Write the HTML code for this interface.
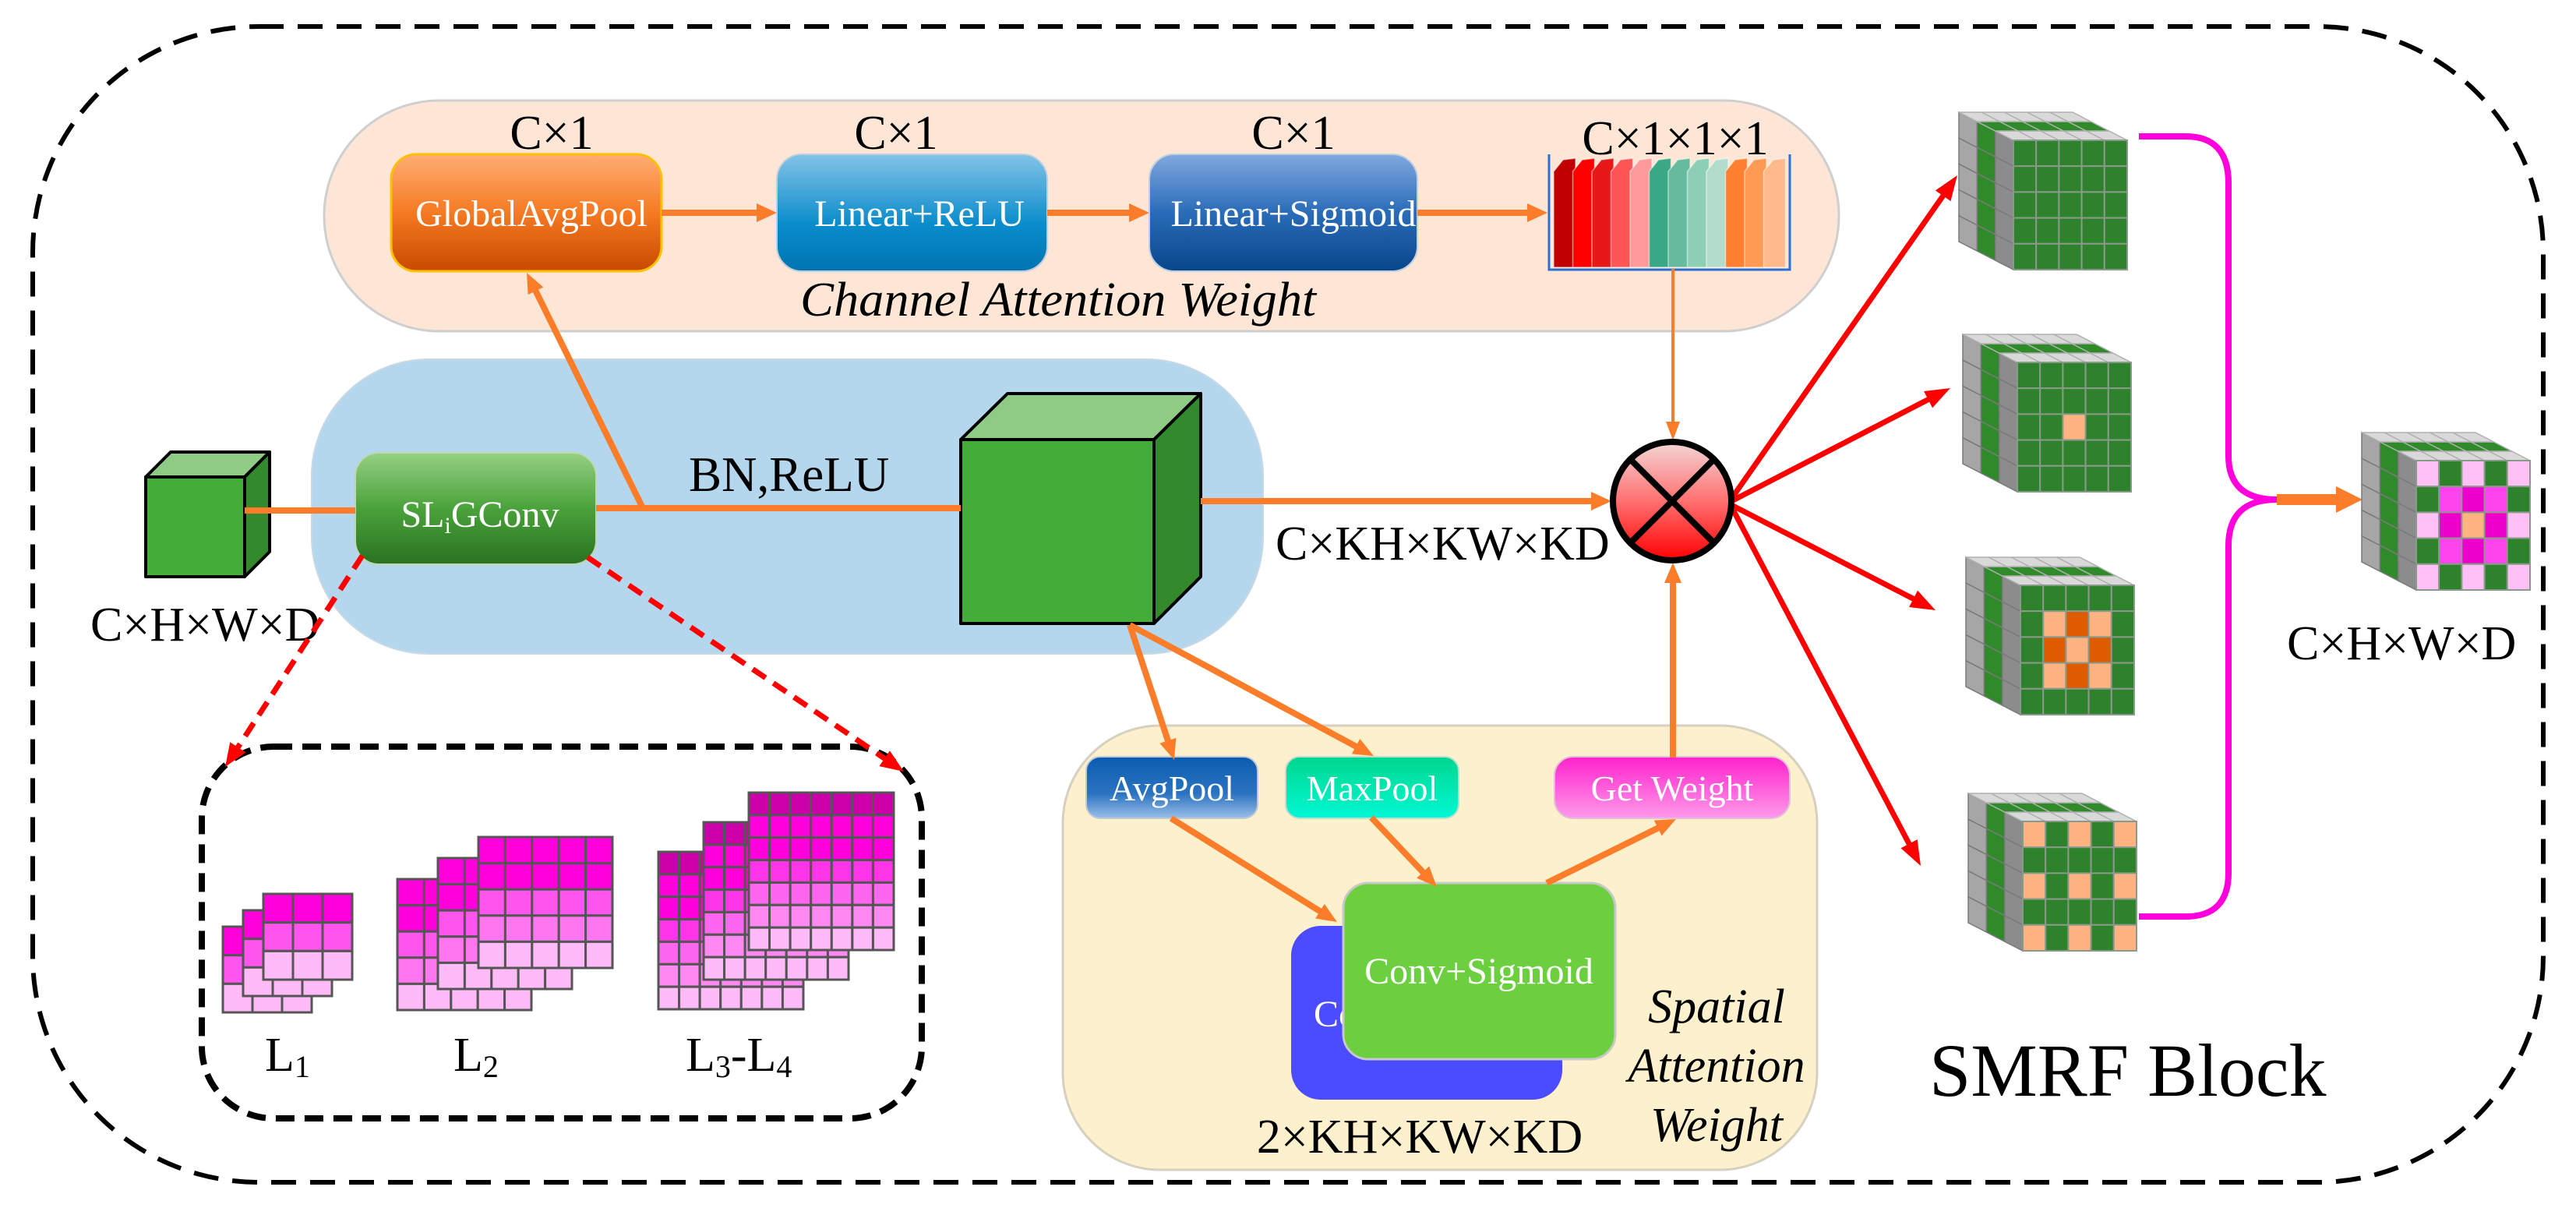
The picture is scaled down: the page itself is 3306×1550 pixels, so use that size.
<!DOCTYPE html>
<html><head><meta charset="utf-8"><style>
html,body{margin:0;padding:0;background:#fff;}
svg{display:block;font-family:"Liberation Serif","DejaVu Serif",serif;}
svg text{font-family:"Liberation Serif","DejaVu Serif",serif;}
</style></head><body>
<svg id="s" xmlns="http://www.w3.org/2000/svg" width="3306" height="1550" viewBox="0 0 3306 1550" font-family="Liberation Serif, DejaVu Serif, serif">
<defs>
<linearGradient id="gOr" x1="0" y1="0" x2="0" y2="1"><stop offset="0" stop-color="#ffad75"/><stop offset="0.5" stop-color="#f57a22"/><stop offset="1" stop-color="#c94a00"/></linearGradient>
<linearGradient id="gB1" x1="0" y1="0" x2="0" y2="1"><stop offset="0" stop-color="#83c3e6"/><stop offset="0.6" stop-color="#0a8ccc"/><stop offset="1" stop-color="#0074b2"/></linearGradient>
<linearGradient id="gB2" x1="0" y1="0" x2="0" y2="1"><stop offset="0" stop-color="#80a8de"/><stop offset="0.5" stop-color="#2a6cb8"/><stop offset="1" stop-color="#08468a"/></linearGradient>
<linearGradient id="gGr" x1="0" y1="0" x2="0" y2="1"><stop offset="0" stop-color="#96d083"/><stop offset="0.5" stop-color="#4aa23a"/><stop offset="1" stop-color="#2a7222"/></linearGradient>
<linearGradient id="gAvg" x1="0" y1="0" x2="0" y2="1"><stop offset="0" stop-color="#0a5cb0"/><stop offset="0.6" stop-color="#2b73c0"/><stop offset="1" stop-color="#9cc0e8"/></linearGradient>
<linearGradient id="gMax" x1="0" y1="0" x2="0" y2="1"><stop offset="0" stop-color="#00d68e"/><stop offset="1" stop-color="#00f8d4"/></linearGradient>
<linearGradient id="gGW" x1="0" y1="0" x2="0" y2="1"><stop offset="0" stop-color="#ff22cc"/><stop offset="1" stop-color="#ff9aea"/></linearGradient>
<linearGradient id="gCir" x1="0" y1="0" x2="0" y2="1"><stop offset="0" stop-color="#f3d6d6"/><stop offset="0.5" stop-color="#ff7070"/><stop offset="1" stop-color="#ff0000"/></linearGradient>
</defs>

<rect x="42" y="34" width="3222" height="1483" rx="290" ry="290" fill="none" stroke="#000" stroke-width="6" stroke-dasharray="32 18"/>

<rect x="416" y="129" width="1944" height="296" rx="148" fill="#fde6d6" stroke="#cfcfcf" stroke-width="3"/>
<rect x="502" y="198" width="347" height="150" rx="32" fill="url(#gOr)" stroke="#ffc000" stroke-width="3"/>
<rect x="997" y="198" width="347" height="150" rx="32" fill="url(#gB1)" stroke="#bfcfdf" stroke-width="2"/>
<rect x="1475" y="198" width="344" height="150" rx="32" fill="url(#gB2)" stroke="#bfcfdf" stroke-width="2"/>
<text x="682" y="290" font-size="48" fill="#fff" text-anchor="middle">GlobalAvgPool</text>
<text x="1180" y="290" font-size="48" fill="#fff" text-anchor="middle">Linear+ReLU</text>
<text x="1660" y="290" font-size="48" fill="#fff" text-anchor="middle">Linear+Sigmoid</text>
<text x="708" y="191" font-size="62" text-anchor="middle">C×1</text>
<text x="1150" y="191" font-size="62" text-anchor="middle">C×1</text>
<text x="1660" y="191" font-size="62" text-anchor="middle">C×1</text>
<text x="2150" y="198" font-size="62" text-anchor="middle">C×1×1×1</text>
<text x="1027" y="405" font-size="62" font-style="italic" textLength="662" lengthAdjust="spacingAndGlyphs">Channel Attention Weight</text>
<g id="bars"></g>

<rect x="400" y="461" width="1221" height="378" rx="150" fill="#b4d7ee" stroke="#c8d8e4" stroke-width="2"/>
<rect x="456" y="581" width="309" height="143" rx="30" fill="url(#gGr)" stroke="#bcd8b0" stroke-width="2"/>
<text x="616" y="676" font-size="48" fill="#fff" text-anchor="middle">SL<tspan font-size="30" dy="8">i</tspan><tspan dy="-8">GConv</tspan></text>
<text x="884" y="630" font-size="63">BN,ReLU</text>

<g stroke="#000" stroke-width="4" stroke-linejoin="round">
<polygon points="187,612 219,580 346,580 314,612" fill="#8fcb85"/>
<polygon points="314,612 346,580 346,708 314,740" fill="#338a2c"/>
<rect x="187" y="612" width="127" height="128" fill="#44ad3a"/>
<polygon points="1233,564 1293,505 1541,505 1481,564" fill="#8fcb85"/>
<polygon points="1481,564 1541,505 1541,740 1481,800" fill="#338a2c"/>
<rect x="1233" y="564" width="248" height="236" fill="#44ad3a"/>
</g>
<text x="116" y="822" font-size="62">C×H×W×D</text>
<text x="1637" y="718" font-size="62">C×KH×KW×KD</text>

<rect x="259" y="958" width="924" height="477" rx="92" fill="none" stroke="#000" stroke-width="8" stroke-dasharray="24 13"/>
<g id="grids"></g>
<text x="340" y="1374" font-size="62">L<tspan font-size="40" dy="8">1</tspan></text>
<text x="582" y="1374" font-size="62">L<tspan font-size="40" dy="8">2</tspan></text>
<text x="880" y="1374" font-size="62">L<tspan font-size="40" dy="8">3</tspan><tspan dy="-8">-L</tspan><tspan font-size="40" dy="8">4</tspan></text>

<rect x="1364" y="931" width="968" height="570" rx="125" fill="#fdf0cc" stroke="#d6d0c0" stroke-width="3"/>
<rect x="1394" y="971" width="220" height="79" rx="18" fill="url(#gAvg)" stroke="#c0c8d8" stroke-width="2"/>
<rect x="1650" y="971" width="222" height="79" rx="18" fill="url(#gMax)" stroke="#c0dcd0" stroke-width="2"/>
<rect x="1995" y="971" width="302" height="79" rx="24" fill="url(#gGW)" stroke="#e0c0d8" stroke-width="2"/>
<text x="1504" y="1027" font-size="46" fill="#fff" text-anchor="middle">AvgPool</text>
<text x="1761" y="1027" font-size="46" fill="#fff" text-anchor="middle">MaxPool</text>
<text x="2146" y="1027" font-size="46" fill="#fff" text-anchor="middle">Get Weight</text>
<rect x="1657" y="1188" width="348" height="223" rx="38" fill="#4b4bff"/>
<text x="1686" y="1317" font-size="48" fill="#fff">Conv</text>
<rect x="1724" y="1133" width="349" height="226" rx="32" fill="#6ccf40" stroke="#c8c8c8" stroke-width="3"/>
<text x="1898" y="1262" font-size="48" fill="#fff" text-anchor="middle">Conv+Sigmoid</text>
<text x="1822" y="1479" font-size="62" text-anchor="middle">2×KH×KW×KD</text>
<text x="2203" y="1312" font-size="62" font-style="italic" text-anchor="middle">Spatial</text>
<text x="2203" y="1388" font-size="62" font-style="italic" text-anchor="middle">Attention</text>
<text x="2203" y="1464" font-size="62" font-style="italic" text-anchor="middle">Weight</text>

<g id="arrows"></g>

<circle cx="2146" cy="643" r="76" fill="url(#gCir)" stroke="#000" stroke-width="8"/>
<line x1="2092" y1="589" x2="2200" y2="697" stroke="#000" stroke-width="8"/>
<line x1="2200" y1="589" x2="2092" y2="697" stroke="#000" stroke-width="8"/>

<path d="M2745,175 H2805 Q2860,175 2860,235 V585 Q2860,641 2922,641 Q2860,641 2860,700 V1120 Q2860,1176 2805,1176 H2745" fill="none" stroke="#ff00dd" stroke-width="8"/>
<g id="cubes"></g>
<text x="2935" y="846" font-size="62">C×H×W×D</text>
<text x="2476" y="1406" font-size="96">SMRF Block</text>
</svg>
<script>
var NS="http://www.w3.org/2000/svg";
function el(p,t,a){var e=document.createElementNS(NS,t);for(var k in a)e.setAttribute(k,a[k]);p.appendChild(e);return e;}
var A=document.getElementById('arrows');
function arrow(x1,y1,x2,y2,c,w,L,W,dash){
  var dx=x2-x1,dy=y2-y1,len=Math.sqrt(dx*dx+dy*dy),ux=dx/len,uy=dy/len;
  var bx=x2-ux*L,by=y2-uy*L;
  var a={x1:x1,y1:y1,x2:bx+ux*2,y2:by+uy*2,stroke:c,'stroke-width':w};
  if(dash)a['stroke-dasharray']=dash;
  el(A,'line',a);
  el(A,'polygon',{points:x2+','+y2+' '+(bx-uy*W/2)+','+(by+ux*W/2)+' '+(bx+uy*W/2)+','+(by-ux*W/2),fill:c});
}
var O='#fb7d2a';
el(A,'line',{x1:314,y1:655,x2:456,y2:655,stroke:O,'stroke-width':8});
el(A,'line',{x1:765,y1:652,x2:1233,y2:652,stroke:O,'stroke-width':8});
arrow(849,273,997,273,O,8,26,24);
arrow(1344,273,1475,273,O,8,26,24);
arrow(1819,273,1986,273,O,8,26,24);
arrow(826,654,676,350,O,8,26,22);
arrow(1541,643,2068,643,O,8,26,24);
arrow(2147,345,2147,565,O,4,24,18);
arrow(1450,802,1507,975,O,8,26,22);
arrow(1450,802,1763,970,O,8,26,22);
arrow(1503,1050,1716,1183,O,8,26,22);
arrow(1760,1049,1844,1138,O,8,26,22);
arrow(1985,1133,2151,1051,O,8,26,22);
arrow(2147,972,2147,722,O,8,26,22);
arrow(2922,641,3032,641,O,14,34,34);
var R='#ff0000';
arrow(2222,640,2512,225,R,7,32,24);
arrow(2222,643,2503,498,R,7,32,24);
arrow(2222,648,2484,783,R,7,32,24);
arrow(2222,650,2465,1111,R,7,32,24);
arrow(465,713,289,984,R,7,30,24,'20 12');
arrow(754,715,1160,990,R,7,30,24,'20 12');

var B=document.getElementById('bars');
var cols=['#c00000','#ff0000','#e81818','#ff5555','#ff9a9a','#3aa884','#66bb9e','#8ccfb5','#b3dccd','#ff8030','#ff9a55','#ffb98a'];
for(var i=0;i<12;i++){var x=1994+i*24.5;
 el(B,'polygon',{points:x+',343 '+x+',220 '+(x+12)+',205 '+(x+28)+',203 '+(x+28)+',343',fill:cols[i],stroke:'rgba(255,255,255,0.5)','stroke-width':1.5});}
el(B,'polyline',{points:'1988,198 1988,346 2297,346 2297,198',fill:'none',stroke:'#2d6fd0','stroke-width':3});

var G=document.getElementById('grids');
function grid(x,y,w,h,nc,nr,rows){
  var cw=w/nc,ch=h/nr;
  for(var r=0;r<nr;r++)for(var c=0;c<nc;c++)
    el(G,'rect',{x:x+c*cw,y:y+r*ch,width:cw,height:ch,fill:rows[r],stroke:'#555','stroke-width':3});
}
function stack(fx,fy,w,h,n,dx,dy,rows){
  for(var k=2;k>=0;k--)grid(fx+dx*k,fy+dy*k,w,h,n,n,rows);
}
stack(338,1147,114,110,3,-26,21,['#ff00dd','#ff55ee','#ffbbf7']);
stack(614,1074,172,168,5,-52,27,['#ff00dd','#ff00dd','#ff55ee','#ff77f0','#ffbbf7']);
stack(961,1017,186,202,7,-58,38,['#cc00aa','#ff00dd','#ff00dd','#ff33e8','#ff66ef','#ff88f3','#ffbbf7']);

var C=document.getElementById('cubes');
function cube(X,Y,pat){
  var W=146,H=166,dx=-70,dy=-36,n=5;
  for(var d=0;d<3;d++){var t0=d/3,t1=(d+1)/3;
    for(var r=0;r<n;r++){var y0=Y+r*H/n,y1=Y+(r+1)*H/n;
      el(C,'polygon',{points:(X+dx*t1)+','+(y0+dy*t1)+' '+(X+dx*t0)+','+(y0+dy*t0)+' '+(X+dx*t0)+','+(y1+dy*t0)+' '+(X+dx*t1)+','+(y1+dy*t1),fill:(d==1?'#2f8a2a':(d==0?'#8c8c8c':'#a6a6a6')),stroke:'#7a7a7a','stroke-width':1.5});}
  }
  for(var d=0;d<3;d++){var t0=d/3,t1=(d+1)/3;
    for(var c=0;c<n;c++){var x0=X+c*W/n,x1=X+(c+1)*W/n;
      el(C,'polygon',{points:(x0+dx*t0)+','+(Y+dy*t0)+' '+(x1+dx*t0)+','+(Y+dy*t0)+' '+(x1+dx*t1)+','+(Y+dy*t1)+' '+(x0+dx*t1)+','+(Y+dy*t1),fill:(d==1?'#2f8a2a':'#d9d9d9'),stroke:'#b0b0b0','stroke-width':1.5});}
  }
  for(var r=0;r<n;r++)for(var c=0;c<n;c++){
    var f=pat?pat[r][c]:'g';
    var col={g:'#2f822c',o:'#ffb380',O:'#e05a00',p:'#ffc0f5',m:'#ff44ee',M:'#ee00cc'}[f];
    el(C,'rect',{x:X+c*W/n,y:Y+r*H/n,width:W/n,height:H/n,fill:col,stroke:'#8a9a8a','stroke-width':2});
  }
}
cube(2584,180,null);
cube(2589,465,['ggggg','ggggg','ggogg','ggggg','ggggg']);
cube(2593,751,['ggggg','goOog','gOoOg','goOog','ggggg']);
cube(2596,1054,['ogogo','ggggg','ogogo','ggggg','ogogo']);
cube(3101,591,['pgpgp','gmMmg','pMoMp','gmMmg','pgpgp']);
</script>
</body></html>
